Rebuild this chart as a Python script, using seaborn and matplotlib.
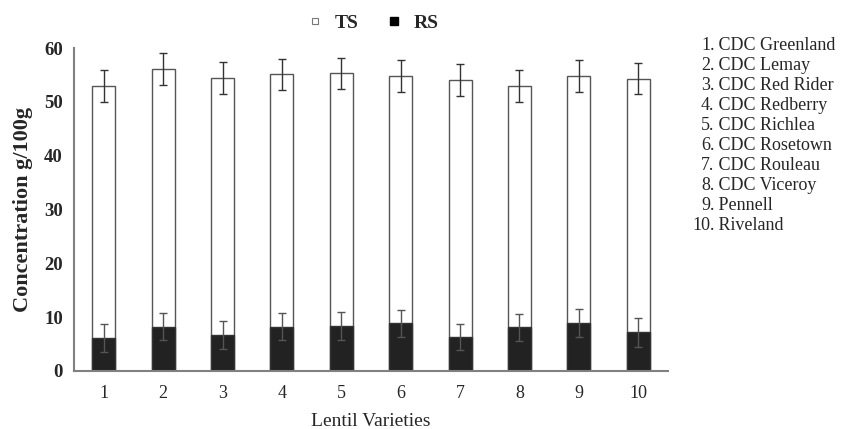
import numpy as np
import pandas as pd
import seaborn as sns
import matplotlib.pyplot as plt
from matplotlib.lines import Line2D

# values (g/100g)
varieties = ['1', '2', '3', '4', '5', '6', '7', '8', '9', '10']
ts_mean = [52.9, 56.1, 54.5, 55.1, 55.3, 54.8, 54.0, 52.9, 54.8, 54.3]
ts_err = [3.0, 3.0, 3.0, 2.9, 2.9, 3.0, 3.0, 3.0, 3.0, 2.9]
rs_mean = [6.1, 8.2, 6.6, 8.2, 8.4, 8.9, 6.3, 8.1, 8.9, 7.2]
rs_err = [2.6, 2.5, 2.6, 2.5, 2.6, 2.5, 2.4, 2.5, 2.6, 2.7]
names = ['CDC Greenland', 'CDC Lemay', 'CDC Red Rider', 'CDC Redberry', 'CDC Richlea',
         'CDC Rosetown', 'CDC Rouleau', 'CDC Viceroy', 'Pennell', 'Riveland']

df = pd.DataFrame({'variety': varieties, 'TS': ts_mean, 'RS': rs_mean})

sns.set_style('white')
plt.rcParams['font.family'] = ['Liberation Serif', 'DejaVu Serif']

fig = plt.figure(figsize=(8.43, 4.29), dpi=100)
ax = fig.add_axes([0.0878, 0.1352, 0.7046, 0.7528])

# TS bars (white) and RS bars (black) overlaid on the same categories
sns.barplot(data=df, x='variety', y='TS', order=varieties, color='white', edgecolor='#555555',
            linewidth=1.0, width=0.39, errorbar=None, ax=ax, saturation=1)
sns.barplot(data=df, x='variety', y='RS', order=varieties, color='#222222', edgecolor='#333333',
            linewidth=1.0, width=0.39, errorbar=None, ax=ax, saturation=1)

pos = np.arange(len(varieties))
ax.errorbar(pos, ts_mean, yerr=ts_err, fmt='none', ecolor='#333333', elinewidth=1.0, capsize=3, capthick=1.0)
ax.errorbar(pos, rs_mean, yerr=rs_err, fmt='none', ecolor='#555555', elinewidth=1.0, capsize=3, capthick=1.0)

ax.set_xlim(-0.5, len(varieties) - 0.5)
ax.set_ylim(0, 60)
ax.set_yticks(range(0, 61, 10))
ax.set_xticks(pos)
ax.set_xticklabels(varieties, fontsize=13)
ax.set_xticks(list(pos + 0.5), minor=True)
for lab in ax.get_yticklabels():
    lab.set_fontsize(13.5)
    lab.set_fontweight('bold')

ax.tick_params(axis='y', which='major', direction='inout', length=4, width=2.5, color='black', pad=6)
ax.tick_params(axis='x', which='major', length=0, pad=10)
ax.tick_params(axis='x', which='minor', direction='inout', length=4, width=2.5, color='black')

for side in ['top', 'right']:
    ax.spines[side].set_visible(False)
for side in ['left', 'bottom']:
    ax.spines[side].set_color('#808080')
    ax.spines[side].set_linewidth(1.5)

ax.set_xlabel('Lentil Varieties', fontsize=14, labelpad=8)
ax.set_ylabel('Concentration g/100g', fontsize=16, fontweight='bold', labelpad=8)

handles = [Line2D([], [], marker='s', linestyle='none', markersize=5, markerfacecolor='white',
                  markeredgecolor='#777777', markeredgewidth=0.8),
           Line2D([], [], marker='s', linestyle='none', markersize=5.5, markerfacecolor='black',
                  markeredgecolor='black')]
fig.legend(handles, ['TS', 'RS'], loc='center', bbox_to_anchor=(0.441, 0.947), ncol=2, frameon=False,
           prop={'weight': 'bold', 'size': 14}, handletextpad=0.5, columnspacing=1.35, handlelength=1.0)

# numbered key of varieties on the right
for i, (v, name) in enumerate(zip(varieties, names)):
    y = 1 - (46 + i * 19.9) / 429
    fig.text(0.8475, y, v + '.', ha='right', va='center', fontsize=13)
    fig.text(0.8475, y, ' ' + name, ha='left', va='center', fontsize=13)

fig.savefig('out.png', dpi=100)
